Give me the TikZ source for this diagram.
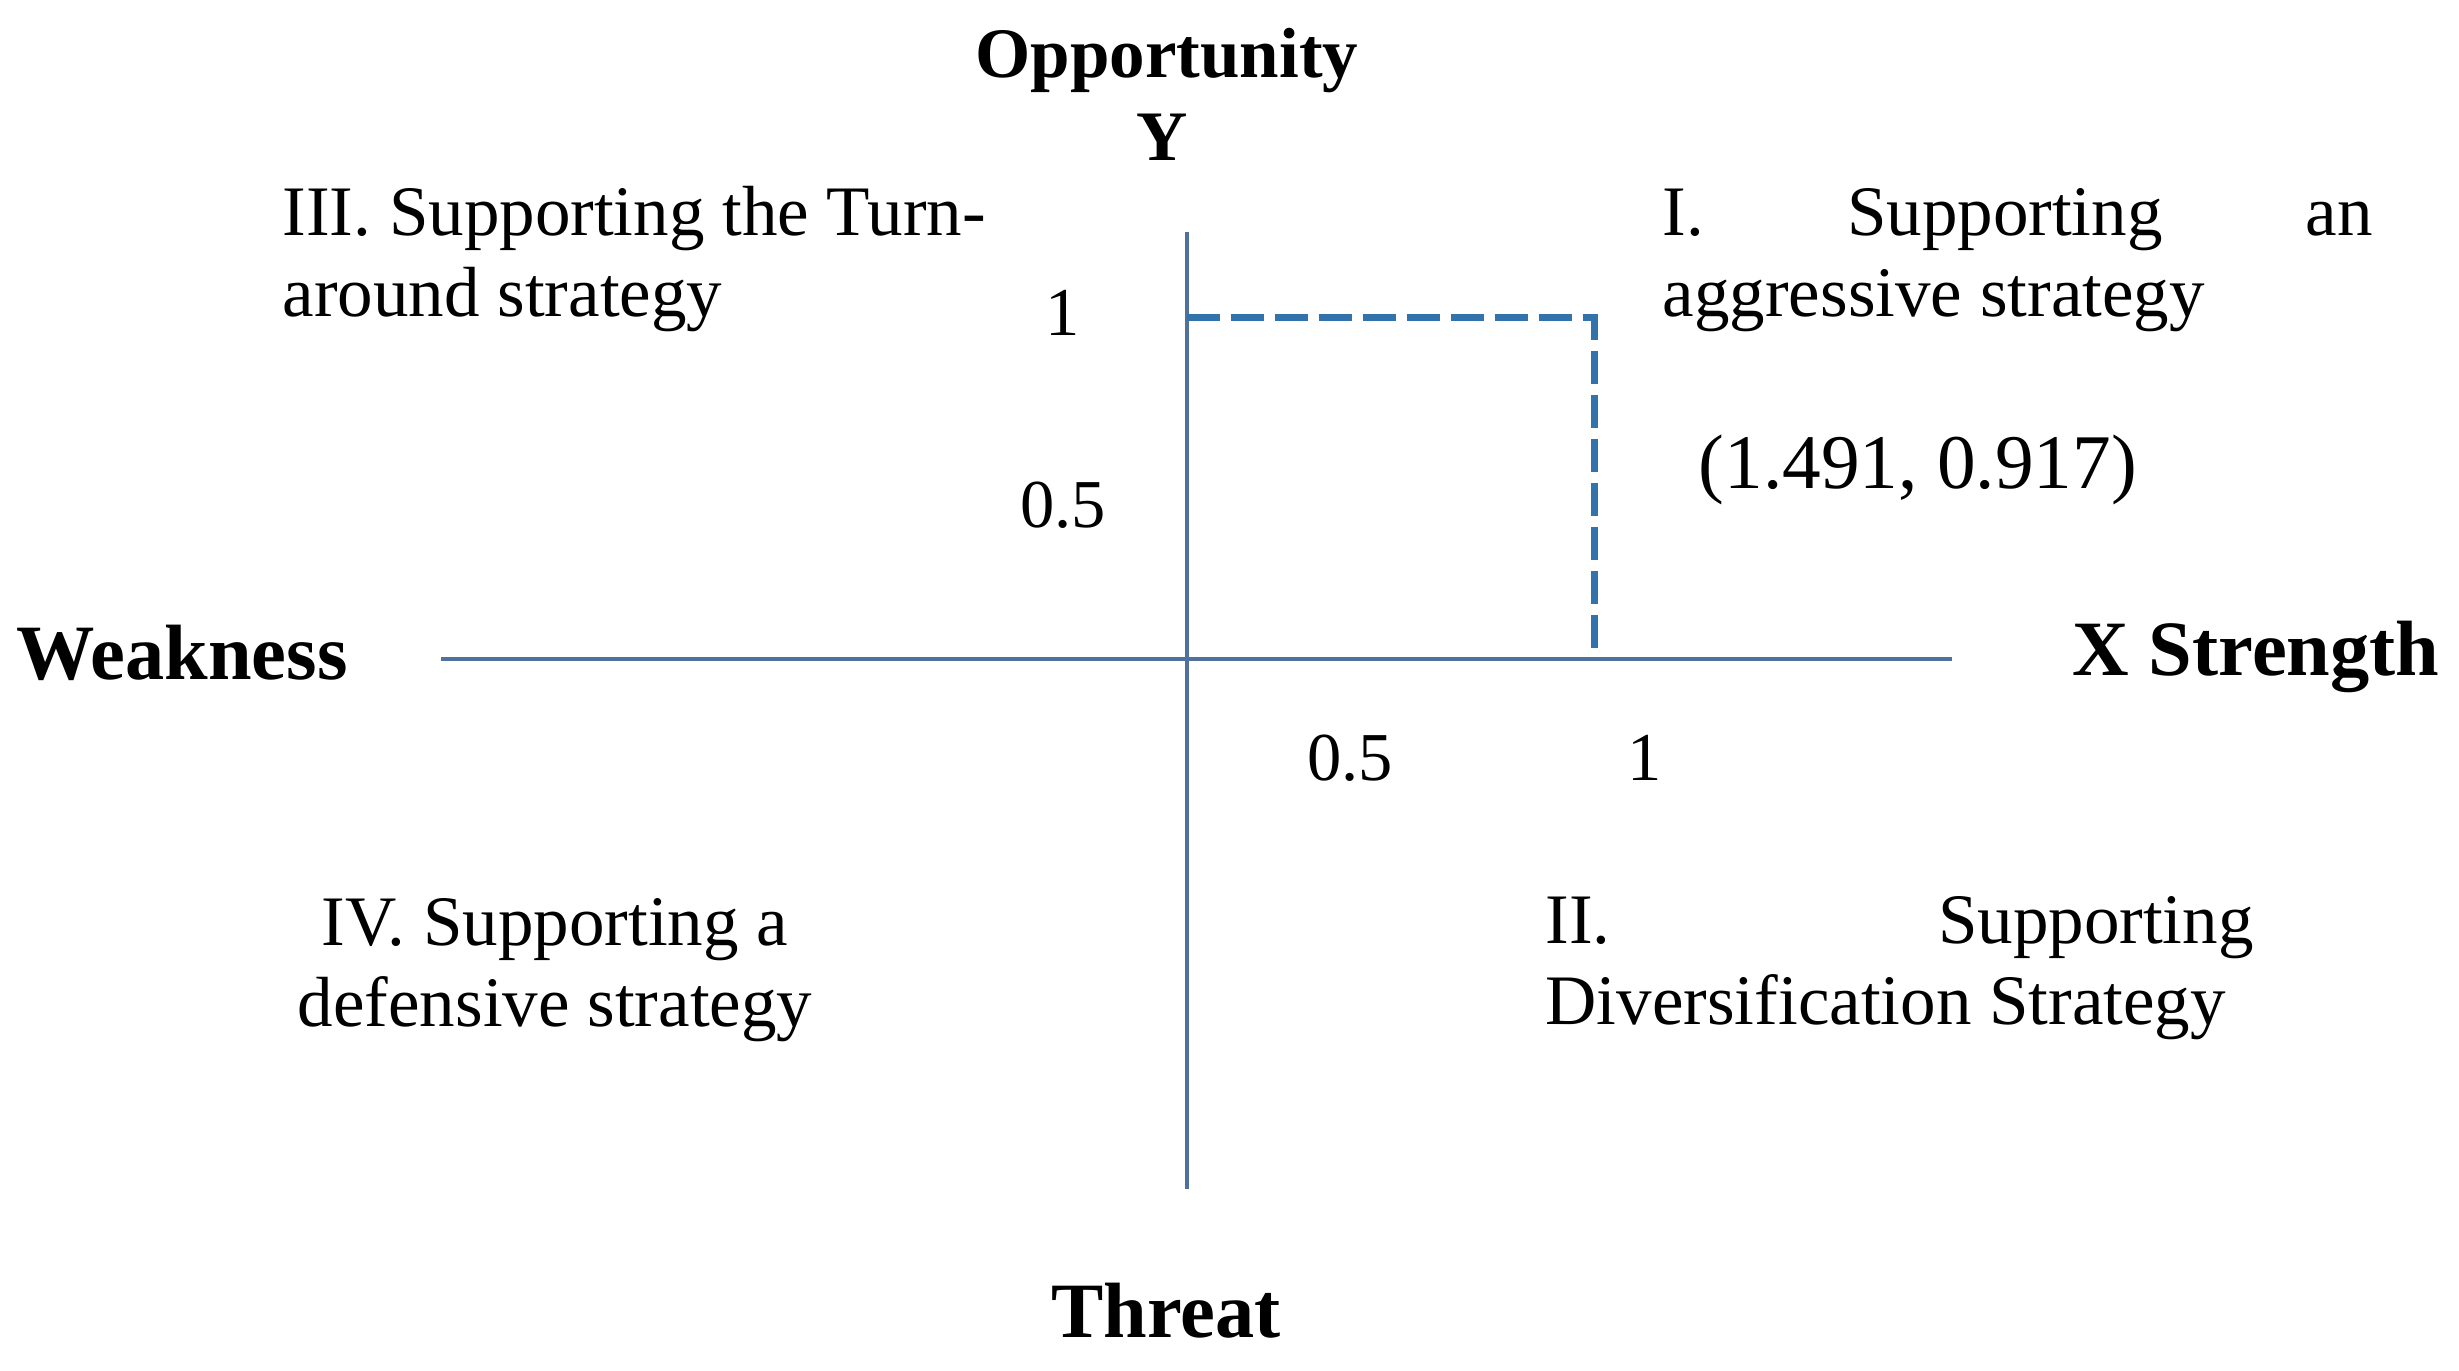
\documentclass[tikz,border=0pt]{standalone}
\usepackage{fontspec}
\setmainfont{Liberation Serif}
\definecolor{axiscol}{RGB}{79,113,155}
\definecolor{dashcol}{RGB}{49,115,170}
\begin{document}
\begin{tikzpicture}[x=0.1mm,y=-0.1mm,
  axisline/.style={draw=axiscol,line width=0.45mm},
  dashline/.style={draw=dashcol,line width=0.7mm,dash pattern=on 3.3mm off 1.1mm},
  lbl/.style={inner sep=0pt,font=\fontsize{20.2}{23.3}\selectfont},
  blbl/.style={inner sep=0pt,font=\fontsize{22.3}{24}\selectfont\bfseries},
  num/.style={inner sep=0pt,font=\fontsize{19.5}{23}\selectfont},
  quad/.style={inner sep=0pt,font=\fontsize{20.2}{23.3}\selectfont}]
\useasboundingbox (0,0) rectangle (2459,1371);
% axis end points
\coordinate (ytop) at (1187,232);
\coordinate (ybot) at (1187,1189);
\coordinate (xl) at (441,659);
\coordinate (xr) at (1952,659);
\coordinate (p1) at (1187,318);
\coordinate (corner) at (1594,318);
\coordinate (foot) at (1594,659);
\draw[axisline] (xl) -- (xr);
\draw[axisline] (ytop) -- (ybot);
\draw[dashline] (p1) -- (corner) -- (foot);
% axis labels
\node[blbl,anchor=base,font=\fontsize{20.2}{24}\selectfont\bfseries] (opp) at (1167,78) {Opportunity};
\node[blbl,anchor=base,font=\fontsize{20.2}{24}\selectfont\bfseries] (ylab) at (1162,161) {Y};
\node[blbl,anchor=base west] (weak) at (16,680) {Weakness};
\node[blbl,anchor=base east] (str) at (2440,676) {X Strength};
\node[blbl,anchor=base] (thr) at (1166,1338) {Threat};
% tick labels
\node[num,anchor=base] (y1) at (1063,336) {1};
\node[num,anchor=base] (y05) at (1063,528) {0.5};
\node[num,anchor=base] (x05) at (1350,781) {0.5};
\node[num,anchor=base] (x1) at (1645,781) {1};
\node[lbl,anchor=base west,font=\fontsize{22}{24}\selectfont] (pt) at (1698,489) {(1.491, 0.917)};
% quadrant labels (anchor = baseline of last line)
\node[quad,anchor=base west,align=left] (q3) at (282,317)
  {III. Supporting the Turn-\\around strategy};
\node[quad,anchor=base west,align=left] (q1) at (1662,317)
  {\hbox to 71mm{I.\hfill Supporting\hfill an}\\aggressive strategy};
\node[quad,anchor=base,align=center] (q4) at (555,1027)
  {IV. Supporting a\\defensive strategy};
\node[quad,anchor=base west,align=left] (q2) at (1545,1025)
  {\hbox to 70.8mm{II.\hfill Supporting}\\Diversification Strategy};
\end{tikzpicture}
\end{document}
